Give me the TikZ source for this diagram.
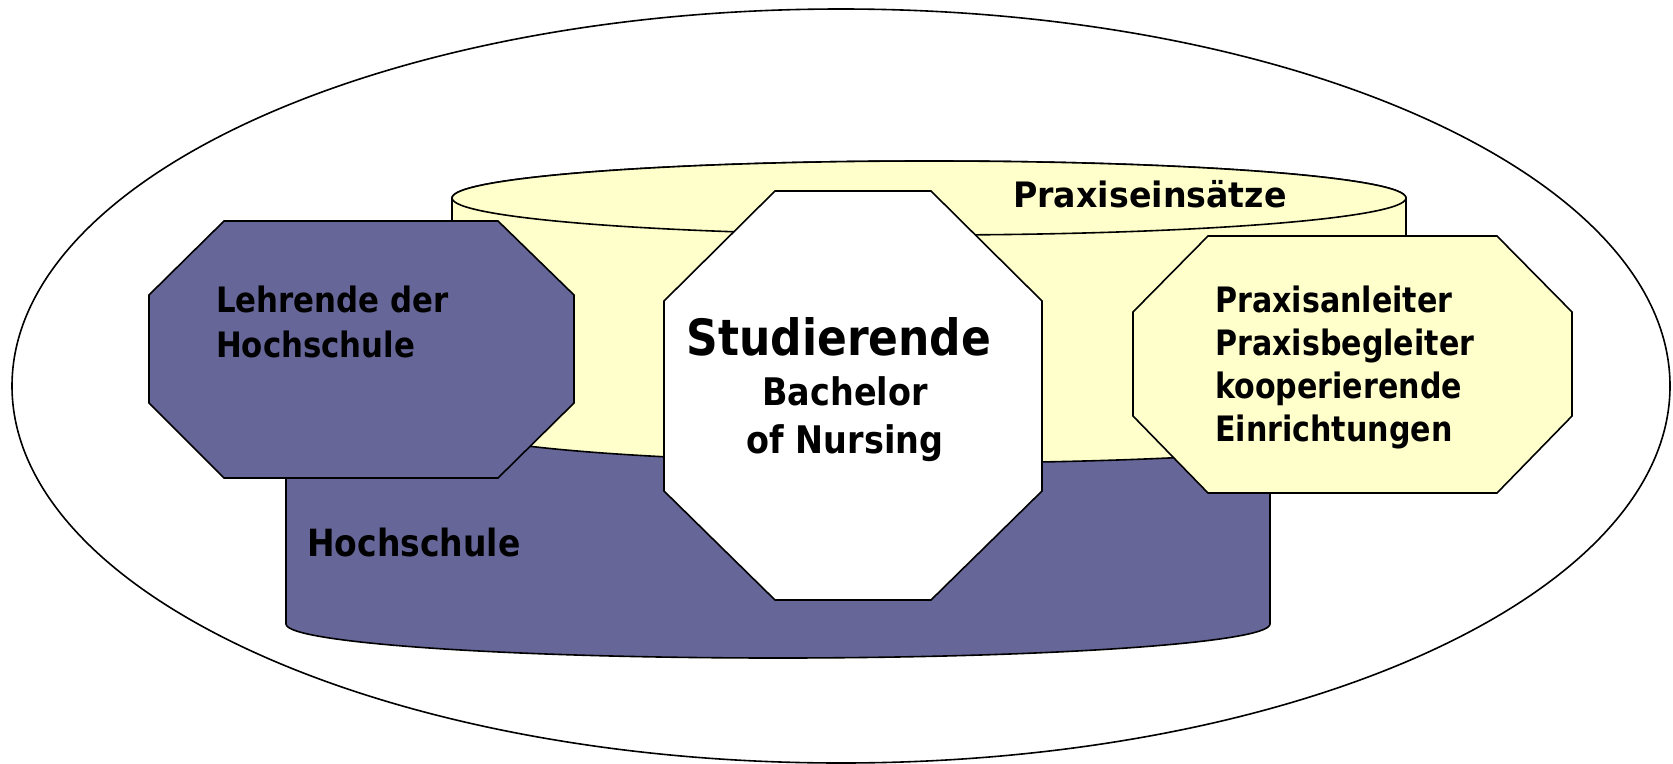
\documentclass[tikz,border=0pt]{standalone}
\usepackage{fontspec}
\newfontfamily\labfont[FakeStretch=0.88]{DejaVu Sans}
\newfontfamily\narrowfont[FakeStretch=0.86]{DejaVu Sans}
\newfontfamily\praxfont[FakeStretch=0.95]{DejaVu Sans}
\definecolor{hspurple}{RGB}{102,102,153}
\definecolor{praxyellow}{RGB}{255,255,204}
\tikzset{
  outline/.style={draw=black, line width=1.6pt, line join=miter},
  lbl/.style={inner sep=0pt, anchor=base west, font=\labfont\bfseries\fontsize{35}{42}\selectfont},
  rlbl/.style={inner sep=0pt, anchor=base west, font=\narrowfont\bfseries\fontsize{35}{42}\selectfont},
  hlbl/.style={inner sep=0pt, anchor=base west, font=\labfont\bfseries\fontsize{37.5}{42}\selectfont},
  lblc/.style={inner sep=0pt, anchor=base, font=\labfont\bfseries\fontsize{38}{42}\selectfont},
  bigc/.style={inner sep=0pt, anchor=base, font=\labfont\bfseries\fontsize{50}{60}\selectfont},
  praxlbl/.style={inner sep=0pt, anchor=base west, font=\praxfont\bfseries\fontsize{35}{42}\selectfont}
}
\begin{document}
\begin{tikzpicture}[x=1pt,y=-1pt]
\useasboundingbox (0,0) rectangle (1673,763);
\fill[white] (0,0) rectangle (1673,763);
% outer ellipse
\draw[outline] (841,386) ellipse [x radius=829, y radius=377];
% Hochschule cylinder (purple)
\path[outline, fill=hspurple] (286,400) -- (286,624)
  arc[start angle=180, end angle=0, x radius=492, y radius=34]
  -- (1270,400)
  arc[start angle=0, end angle=-180, x radius=492, y radius=34] -- cycle;
% Praxiseinsaetze cylinder (yellow)
\path[outline, fill=praxyellow] (452,198) -- (452,426)
  arc[start angle=180, end angle=0, x radius=477, y radius=37]
  -- (1406,198)
  arc[start angle=0, end angle=-180, x radius=477, y radius=37] -- cycle;
\path[outline, fill=praxyellow] (929,198) ellipse [x radius=477, y radius=37];
% Lehrende octagon
\path[outline, fill=hspurple] (224,221) -- (498,221) -- (574,295) -- (574,403)
  -- (498,478) -- (224,478) -- (149,403) -- (149,295) -- cycle;
% Studierende octagon
\path[outline, fill=white] (775,191) -- (931,191) -- (1042,301) -- (1042,491)
  -- (931,600) -- (775,600) -- (664,491) -- (664,301) -- cycle;
% Praxis octagon
\path[outline, fill=praxyellow] (1208,236) -- (1497,236) -- (1572,312) -- (1572,416)
  -- (1497,493) -- (1208,493) -- (1133,416) -- (1133,312) -- cycle;
% texts
\node[praxlbl] (praxis) at (1013,207) {Praxiseinsätze};
\node[hlbl] (hochschule) at (307,556) {Hochschule};
\node[lbl] (lehrA) at (216,312) {Lehrende der};
\node[lbl] (lehrB) at (216,357) {Hochschule};
\node[bigc] (stud) at (839,355) {Studierende};
\node[lblc] (bach) at (845,405) {Bachelor};
\node[lblc] (nurs) at (845,453) {of Nursing};
\node[rlbl] (prA) at (1215,312) {Praxisanleiter};
\node[rlbl] (prB) at (1215,355) {Praxisbegleiter};
\node[rlbl] (prC) at (1215,398) {kooperierende};
\node[rlbl] (prD) at (1215,441) {Einrichtungen};
\end{tikzpicture}
\end{document}
